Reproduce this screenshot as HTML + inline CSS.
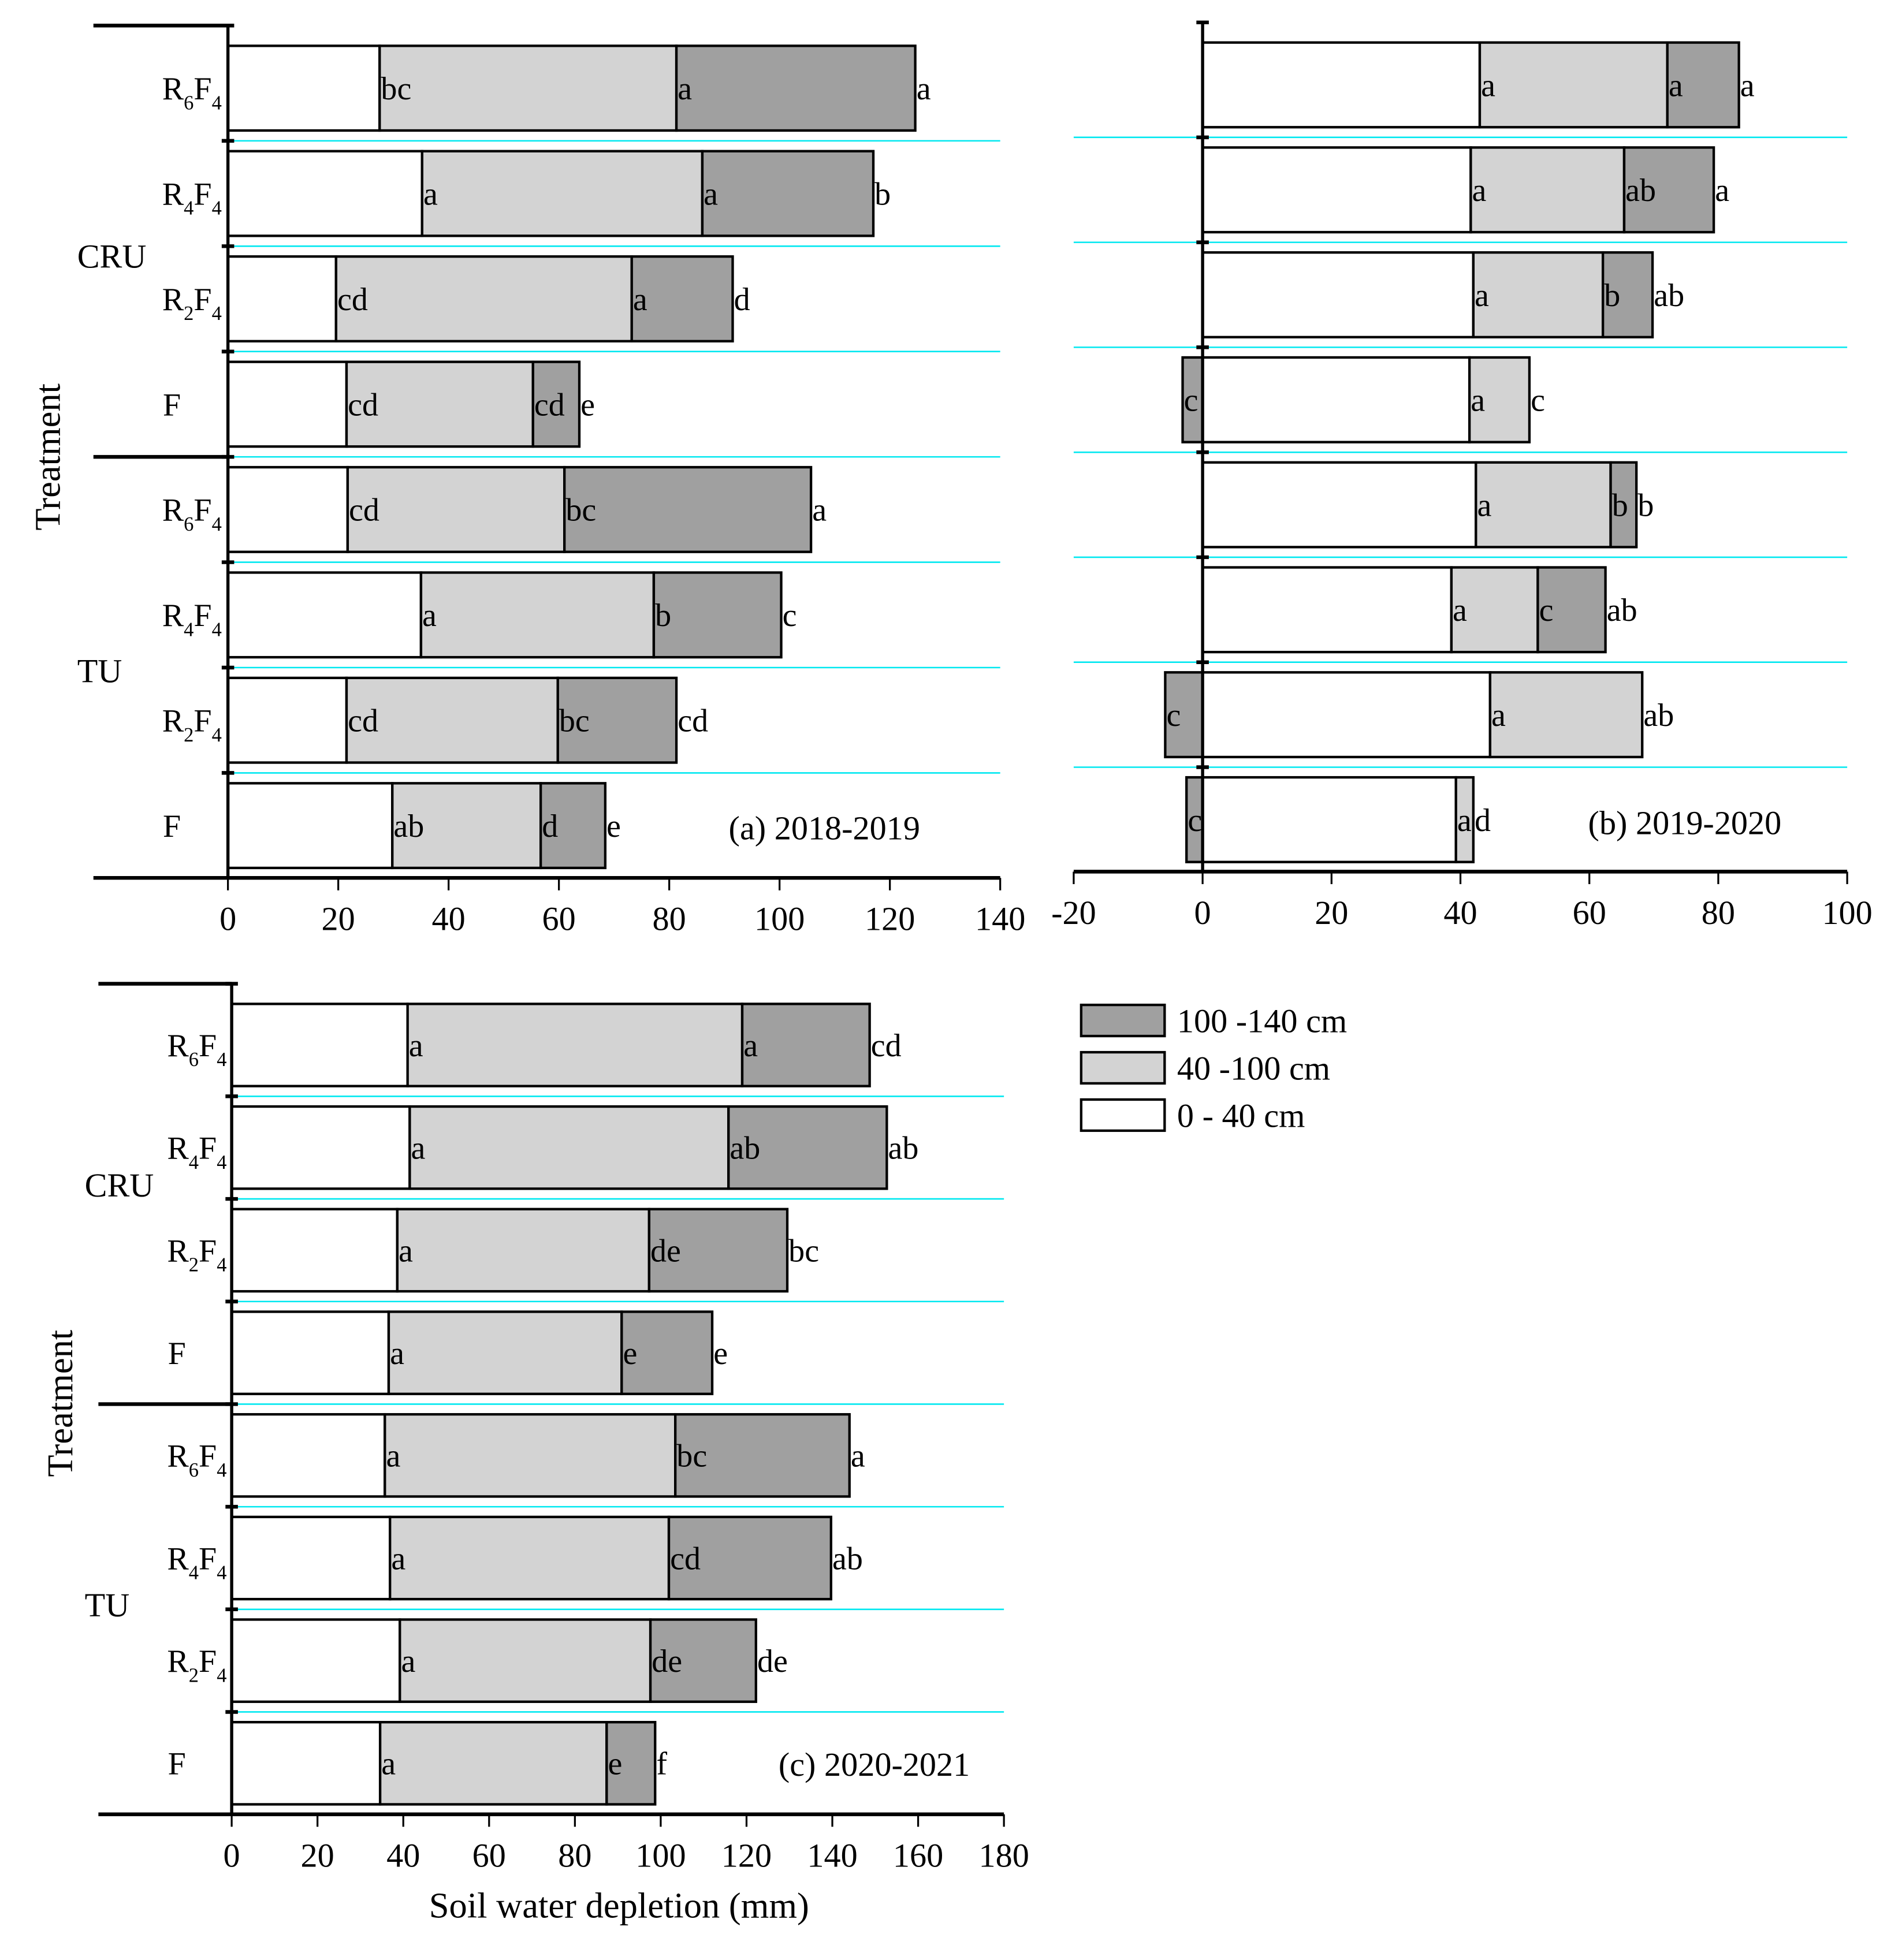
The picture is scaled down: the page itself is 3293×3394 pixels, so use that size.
<!DOCTYPE html>
<html><head><meta charset="utf-8"><style>
html,body{margin:0;padding:0;background:#fff}
svg{display:block}
text{font-family:"Liberation Serif",serif;fill:#000}
</style></head><body>
<svg id="chart" width="3293" height="3394" viewBox="0 0 1527 1574" preserveAspectRatio="none" xmlns="http://www.w3.org/2000/svg">
<g id="root"></g>
</svg>
<script>
// Panel (a) 2018-2019 — layer depletion (mm): 0-40, 40-100, 100-140
const aLayer1 = [27.5, 35.2, 19.6, 21.5, 21.7, 35.0, 21.5, 29.8];
const aLayer2 = [53.8, 50.8, 53.6, 33.8, 39.3, 42.2, 38.3, 26.9];
const aLayer3 = [43.3, 31.0, 18.3, 8.4, 44.7, 23.1, 21.5, 11.7];
const aLetters1 = ["bc","a","cd","cd","cd","a","cd","ab"];
const aLetters2 = ["a","a","a","cd","bc","b","bc","d"];
const aLetters3 = ["a","b","d","e","a","c","cd","e"];
const aTicks = [0,20,40,60,80,100,120,140];
// Panel (b) 2019-2020
const bLayer1 = [43.0, 41.6, 42.0, 41.4, 42.4, 38.6, 44.6, 39.3];
const bLayer2 = [29.1, 23.8, 20.1, 9.3, 20.9, 13.4, 23.6, 2.7];
const bLayer3 = [11.1, 13.9, 7.7, -3.1, 4.0, 10.5, -5.8, -2.5];
const bLetters1 = ["a","a","a","a","a","a","a","a"];
const bLetters2 = ["a","ab","b","c","b","c","ab","d"];
const bLetters3 = ["a","a","ab","c","b","ab","c","c"];
const bTicks = [-20,0,20,40,60,80,100];
// Panel (c) 2020-2021
const cLayer1 = [41.0, 41.5, 38.6, 36.6, 35.7, 36.9, 39.2, 34.6];
const cLayer2 = [78.0, 74.3, 58.7, 54.3, 67.7, 65.0, 58.4, 52.8];
const cLayer3 = [29.7, 36.9, 32.2, 21.1, 40.6, 37.8, 24.6, 11.3];
const cLetters1 = ["a","a","a","a","a","a","a","a"];
const cLetters2 = ["a","ab","de","e","bc","cd","de","e"];
const cLetters3 = ["cd","ab","bc","e","a","ab","de","f"];
const cTicks = [0,20,40,60,80,100,120,140,160,180];
const treatments = [["R","6","F","4"],["R","4","F","4"],["R","2","F","4"],["F"],["R","6","F","4"],["R","4","F","4"],["R","2","F","4"],["F"]];
const groups = ["CRU","TU"];

const NS="http://www.w3.org/2000/svg";
const root=document.getElementById('root');
function mk(tag,attrs,parent){const e=document.createElementNS(NS,tag);for(const k in attrs)e.setAttribute(k,attrs[k]);(parent||root).appendChild(e);return e;}
const COL=["#ffffff","#d3d3d3","#a0a0a0"];

function panel(o){
  const g=mk('g',{});
  
  
  const x=v=>o.x0+(v-o.vmin)*(o.x1-o.x0)/(o.vmax-o.vmin);
  const zero=x(0);
  const rowY=i=>o.yTop+o.step*(i+0.5);
  for(let i=1;i<8;i++){
    const y=o.yTop+o.step*i;
    const l=mk('line',{x1:o.x0,x2:o.x1,y1:y,y2:y,stroke:'#00e8f0','stroke-width':1.2},g);
    
    
    const t=mk('line',{x1:zero-5,x2:zero+5,y1:y,y2:y,stroke:'#000','stroke-width':3},g);
    
    
  }
  const labelsToDraw=[];
  for(let i=0;i<8;i++){
    const vals=[o.l1[i],o.l2[i],o.l3[i]];
    const lets=[o.t1[i],o.t2[i],o.t3[i]];
    const cy=rowY(i), h=o.barH;
    let cum=0;
    for(let k=0;k<3;k++){
      const v=vals[k];
      let xa,xb;
      if(v>=0){xa=x(cum);xb=x(cum+v);cum+=v;}else{xa=x(v);xb=zero;}
      const r=mk('rect',{x:xa,y:cy-h/2,width:Math.max(0,xb-xa),height:h,fill:COL[k],stroke:'#000','stroke-width':2},g);
      
      
      labelsToDraw.push([v>=0?xb:xa, cy, lets[k]]);
    }
    if(o.labels){
      const p=treatments[i];
      const t=mk('text',{x:o.labX,y:cy+9,'font-size':26,'text-anchor':'end'},g);
      
      
      if(p.length===1){t.textContent=p[0];t.setAttribute('x',o.labX-40);t.setAttribute('text-anchor','middle');}
      else{
        const s1=mk('tspan',{},t);s1.textContent=p[0];
        const s2=mk('tspan',{dy:8,'font-size':16},t);s2.textContent=p[1];
        const s3=mk('tspan',{dy:-8},t);s3.textContent=p[2];
        const s4=mk('tspan',{dy:8,'font-size':16},t);s4.textContent=p[3];
      }
    }
  }
  labelsToDraw.forEach(([tx,cy,s])=>{
    const t=mk('text',{x:tx+1,y:cy+9,'font-size':26},g);
    t.textContent=s;
    
    
  });
  const ax=mk('line',{x1:o.axStart,x2:o.x1,y1:o.yAxis,y2:o.yAxis,stroke:'#000','stroke-width':3},g);
  
  
  const ay=mk('line',{x1:zero,x2:zero,y1:o.yTop-8,y2:o.yAxis,stroke:'#000','stroke-width':2.5},g);
  
  
  const tt=mk('line',{x1:zero-5,x2:zero+5,y1:o.yTop-8,y2:o.yTop-8,stroke:'#000','stroke-width':3},g);
  
  
  o.ticks.forEach(v=>{
    const l=mk('line',{x1:x(v),x2:x(v),y1:o.yAxis,y2:o.yAxis+10,stroke:'#000','stroke-width':1.5},g);
    
    
    const t=mk('text',{x:x(v),y:o.yAxis+42,'font-size':27,'text-anchor':'middle'},g);
    t.textContent=v;
    
    
  });
  const ti=mk('text',{x:o.titleX,y:o.titleY,'font-size':27},g);
  ti.textContent=o.title;
  
  
  if(o.labels){
    [o.yTop-8,o.yTop+o.step*4,o.yAxis].forEach(y=>{
      const l=mk('line',{x1:o.grpX,x2:zero,y1:y,y2:y,stroke:'#000','stroke-width':3},g);
      
      
    });
    groups.forEach((gname,j)=>{
      const t=mk('text',{x:o.grpLabX,y:o.grpY[j],'font-size':27},g);
      t.textContent=gname;
      
      
    });
    const yt=mk('text',{x:0,y:0,'font-size':29,'text-anchor':'middle',transform:`translate(${o.ytX},${o.ytY}) rotate(-90)`},g);
    yt.textContent='Treatment';
    
    
  }
}

panel({name:'panel-a',x0:183,x1:803,vmin:0,vmax:140,yTop:28.5,step:84.6,barH:68,yAxis:705,axStart:183,
  l1:aLayer1,l2:aLayer2,l3:aLayer3,t1:aLetters1,t2:aLetters2,t3:aLetters3,ticks:aTicks,
  labels:true,labX:178,grpX:75,grpLabX:62,grpY:[215,548],ytX:48,ytY:367,
  title:'(a) 2018-2019',titleX:585,titleY:674});
panel({name:'panel-b',x0:862,x1:1483,vmin:-20,vmax:100,yTop:26,step:84.3,barH:68,yAxis:700,axStart:862,
  l1:bLayer1,l2:bLayer2,l3:bLayer3,t1:bLetters1,t2:bLetters2,t3:bLetters3,ticks:bTicks,
  labels:false,title:'(b) 2019-2020',titleX:1275,titleY:670});
panel({name:'panel-c',x0:186,x1:806,vmin:0,vmax:180,yTop:798,step:82.4,barH:66,yAxis:1457,axStart:186,
  l1:cLayer1,l2:cLayer2,l3:cLayer3,t1:cLetters1,t2:cLetters2,t3:cLetters3,ticks:cTicks,
  labels:true,labX:182,grpX:79,grpLabX:68,grpY:[961,1298],ytX:58,ytY:1127,
  title:'(c) 2020-2021',titleX:625,titleY:1426});

const xt=mk('text',{x:497,y:1540,'font-size':29,'text-anchor':'middle'});
xt.textContent='Soil water depletion (mm)';



const legNames=['100 -140 cm','40 -100 cm','0 - 40 cm'];
const legCols=['#a0a0a0','#d3d3d3','#ffffff'];
legNames.forEach((n,i)=>{
  const y=807+38*i;
  const r=mk('rect',{x:868,y:y,width:67,height:25,fill:legCols[i],stroke:'#000','stroke-width':2});
  
  
  const t=mk('text',{x:945,y:y+22,'font-size':27});
  t.textContent=n;
  
  
});
</script>
</body></html>
